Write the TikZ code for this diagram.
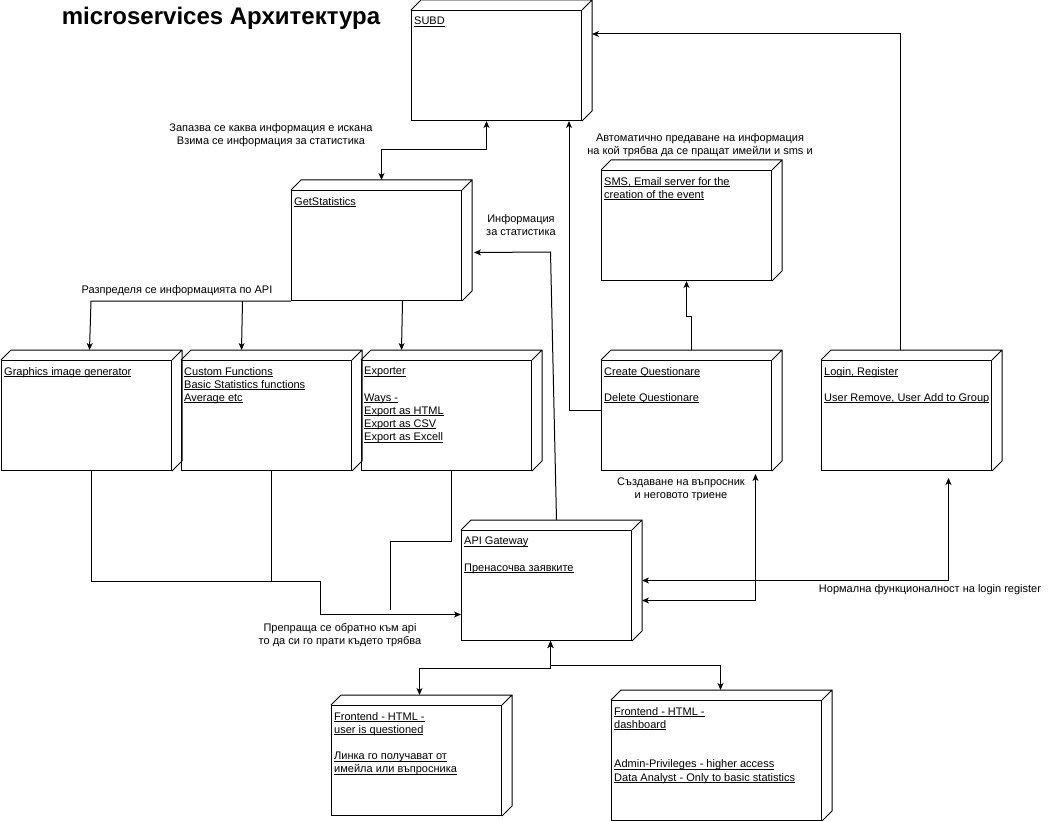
\documentclass[tikz,border=0pt]{standalone}
\usepackage{fontspec}
\setmainfont{Liberation Sans}
\usepackage{tikz}
\usetikzlibrary{arrows.meta}

\newsavebox\lnkbox
\newcommand\lnk[1]{\sbox\lnkbox{#1}\rlap{\rule[-1.6pt]{\wd\lnkbox}{0.8pt}}\usebox\lnkbox}

\begin{document}
\begin{tikzpicture}[x=1pt,y=-1pt]
                \tikzstyle{unode}=[draw=black, fill=white, line width=1pt, anchor=north west, minimum width=170pt, minimum height=110pt, inner sep=0pt]
                \tikzstyle{boxtext}=[anchor=north west, inner xsep=3pt, inner ysep=7pt, label distance=0pt, align=left, font=\fontsize{11}{13.2}\selectfont]
                \tikzstyle{note}=[align=center, inner sep=0pt, font=\fontsize{11}{13.2}\selectfont]
                \tikzstyle{link}=[draw, line width=1pt, -{Stealth[length=7pt, width=6pt, inset=2pt]}]
                \tikzstyle{bilink}=[draw, line width=1pt, {Stealth[length=7pt, width=6pt, inset=2pt]}-{Stealth[length=7pt, width=6pt, inset=2pt]}]
                \tikzstyle{wire}=[draw, line width=1pt]

                \useasboundingbox (0,0) rectangle (1052,821);

                \node[font=\fontsize{24}{28}\selectfont\bfseries, inner sep=0pt] (heading) at (221,18) {microservices Архитектура};

                % nodes
                \node[unode, label={[boxtext]north west:{\lnk{SUBD}}}] (subd) at (411,10) {};
                \node[unode, label={[boxtext]north west:{\lnk{GetStatistics}}}] (getstat) at (291,190) {};
                \node[unode, label={[boxtext]north west:{\lnk{SMS, Email server for the}\\\lnk{creation of the event}}}] (sms) at (601,170) {};
                \node[unode, label={[boxtext]north west:{\lnk{Graphics image generator}}}] (graphics) at (1,360) {};
                \node[unode, label={[boxtext]north west:{\lnk{Custom Functions}\\\lnk{Basic Statistics functions}\\\lnk{Average etc}}}] (custom) at (181,360) {};
                \node[unode, label={[boxtext]north west:{\lnk{Exporter}\\\mbox{}\\\lnk{Ways -}\\\lnk{Export as HTML}\\\lnk{Export as CSV}\\\lnk{Export as Excell}}}] (exporter) at (361,360) {};
                \node[unode, label={[boxtext]north west:{\lnk{Create Questionare}\\\mbox{}\\\lnk{Delete Questionare}}}] (create) at (601,360) {};
                \node[unode, label={[boxtext]north west:{\lnk{Login, Register}\\\mbox{}\\\lnk{User Remove, User Add to Group}}}] (login) at (821,360) {};
                \node[unode, label={[boxtext]north west:{\lnk{API Gateway}\\\mbox{}\\\lnk{Пренасочва заявките}}}] (gateway) at (461,530) {};
                \node[unode, label={[boxtext]north west:{\lnk{Frontend - HTML -}\\\lnk{user is questioned}\\\mbox{}\\\lnk{Линка го получават от}\\\lnk{имейла или въпросника}}}] (frontq) at (331,705) {};
                \node[unode, minimum width=210pt, minimum height=120pt, label={[boxtext]north west:{\lnk{Frontend - HTML -}\\\lnk{dashboard}\\\mbox{}\\\mbox{}\\\lnk{Admin-Privileges - higher access}\\\lnk{Data Analyst - Only to basic statistics}}}] (frontd) at (611,700) {};

                % 3d depth of the boxes
                \foreach \n in {subd, getstat, sms, graphics, custom, exporter, create, login, gateway, frontq, frontd}
                \draw[line width=1pt] (\n.north west) -- ++(10,-10) -| ([shift={(10pt,10pt)}]\n.south east) -- (\n.south east) (\n.north east) -- ++(10,-10);

                % texts
                \node[note] (savetxt) at (271,135) {Запазва се каква информация е искана\\Взима се информация за статистика};
                \node[note] (stattxt) at (521,225) {Информация\\за статистика};
                \node[note] (autotxt) at (700,145) {Автоматично предаване на информация\\на кой трябва да се пращат имейли и sms и};
                \node[note] (disttxt) at (177,291) {Разпределя се информацията по API};
                \node[note] (createtxt) at (681,489) {Създаване на въпросник\\и неговото триене};
                \node[note] (redirtxt) at (340,635) {Препраща се обратно към api\\то да си го прати където трябва};
                \node[note] (logintxt) at (930,590) {Нормална функционалност на login register};

                \coordinate (loose) at (390,610);

                % connectors
                \path[bilink] ([xshift=5pt,yshift=10pt]getstat.north) -- ++(0,-30) -| ([xshift=-10pt]subd.south);
                \path[link] (getstat.south west) -- ++(-200,0) -- ([xshift=3pt,yshift=10pt]graphics.north);
                \path[link] ([xshift=-134pt]getstat.south) -- ([xshift=-25pt,yshift=10pt]custom.north);
                \path[link] ([xshift=26pt]getstat.south) -- ([xshift=-45pt,yshift=10pt]exporter.north);
                \path[link] ([xshift=10pt,yshift=10pt]gateway.north) -- ++(-6,-268) -- ([xshift=12pt,yshift=-7pt]getstat.east);
                \path[link] ([yshift=5pt]create.west) -| ([xshift=-13pt]subd.south east);
                \path[link] ([xshift=5pt,yshift=10pt]create.north) -- ++(0,-34) -| (sms.south);
                \path[link] ([xshift=-6pt,yshift=10pt]login.north) |- ([xshift=10pt,yshift=-24pt]subd.north east);
                \path[bilink] ([xshift=10pt,yshift=-15pt]gateway.east) -| ([xshift=69pt,yshift=-3pt]create.south);
                \path[bilink] ([xshift=10pt,yshift=5pt]gateway.east) -| ([xshift=42pt,yshift=-7pt]login.south);
                \path[link] ([xshift=5pt]graphics.south) -- ++(0,110) -- ++(229,0) |- ([yshift=-29pt]gateway.west);
                \path[wire] ([xshift=5pt]custom.south) -- ++(0,110);
                \path[wire] ([xshift=5pt]exporter.south) -- ++(0,70) -| (loose);
                \path[bilink] ([xshift=4pt]gateway.south) -- ++(0,27) -| ([xshift=3pt,yshift=10pt]frontq.north);
                \path[bilink] ([xshift=4pt]gateway.south) -- ++(0,24) -| ([xshift=4pt,yshift=10pt]frontd.north);
            \end{tikzpicture}
\end{document}
